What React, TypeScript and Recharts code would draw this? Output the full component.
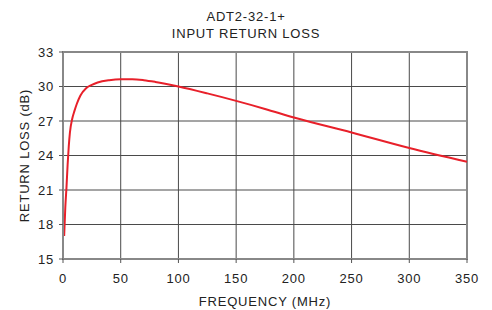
import { LineChart, Line, XAxis, YAxis, CartesianGrid, ReferenceArea, Label } from "recharts";

// frequency (MHz) and input return loss (dB)
const FREQ = [1, 2, 3, 4, 5, 6, 8, 10, 12, 15, 20, 25, 30, 40, 50, 60, 70, 80, 100, 125, 150, 175, 200, 250, 300, 350];
const RL = [17.0, 19.5, 21.2, 23.2, 24.8, 26.0, 27.2, 27.9, 28.5, 29.2, 29.85, 30.15, 30.35, 30.55, 30.63, 30.63, 30.55, 30.4, 30.0, 29.4, 28.75, 28.05, 27.3, 26.0, 24.65, 23.45];

const X_TICKS = [0, 50, 100, 150, 200, 250, 300, 350];
const Y_TICKS = [15, 18, 21, 24, 27, 30, 33];

const data = FREQ.map((f, i) => ({ f, rl: RL[i] }));

const FONT = "'Liberation Sans', Arial, sans-serif";
const textStyle = { fontSize: 13, fill: "#222", fontFamily: FONT, letterSpacing: 0.8 };

export default function App() {
  return (
    <div style={{ position: "absolute", left: 0, top: 0, width: 492, height: 310, background: "#fff" }}>
      <div
        style={{
          position: "absolute",
          top: 8,
          left: 0,
          width: 492,
          textAlign: "center",
          fontFamily: FONT,
          fontSize: 13,
          letterSpacing: 0.8,
          lineHeight: "17px",
          color: "#222",
        }}
      >
        ADT2-32-1+
        <br />
        INPUT RETURN LOSS
      </div>
      <LineChart width={492} height={310} data={data} margin={{ top: 52, right: 25, left: 0, bottom: 0 }}>
        <CartesianGrid stroke="#4a4a4a" strokeWidth={1} horizontalValues={Y_TICKS} verticalValues={X_TICKS} />
        <XAxis
          dataKey="f"
          type="number"
          domain={[0, 350]}
          ticks={X_TICKS}
          height={51}
          tickSize={4}
          tickMargin={11}
          tick={textStyle}
          axisLine={{ stroke: "#888", strokeWidth: 2 }}
          tickLine={{ stroke: "#555" }}
        >
          <Label value="FREQUENCY (MHz)" position="insideBottom" offset={4} style={textStyle} />
        </XAxis>
        <YAxis
          type="number"
          domain={[15, 33]}
          ticks={Y_TICKS}
          width={63}
          tickSize={4}
          tickMargin={5}
          tick={textStyle}
          axisLine={{ stroke: "#888", strokeWidth: 2 }}
          tickLine={{ stroke: "#555" }}
        >
          <Label value="RETURN LOSS (dB)" angle={-90} position="center" dx={-7} style={textStyle} />
        </YAxis>
        <ReferenceArea x1={0} x2={350} y1={15} y2={33} fill="none" stroke="#888" strokeWidth={2} ifOverflow="visible" />
        <Line type="monotone" dataKey="rl" stroke="#e8202a" strokeWidth={2} dot={false} isAnimationActive={false} />
      </LineChart>
    </div>
  );
}
